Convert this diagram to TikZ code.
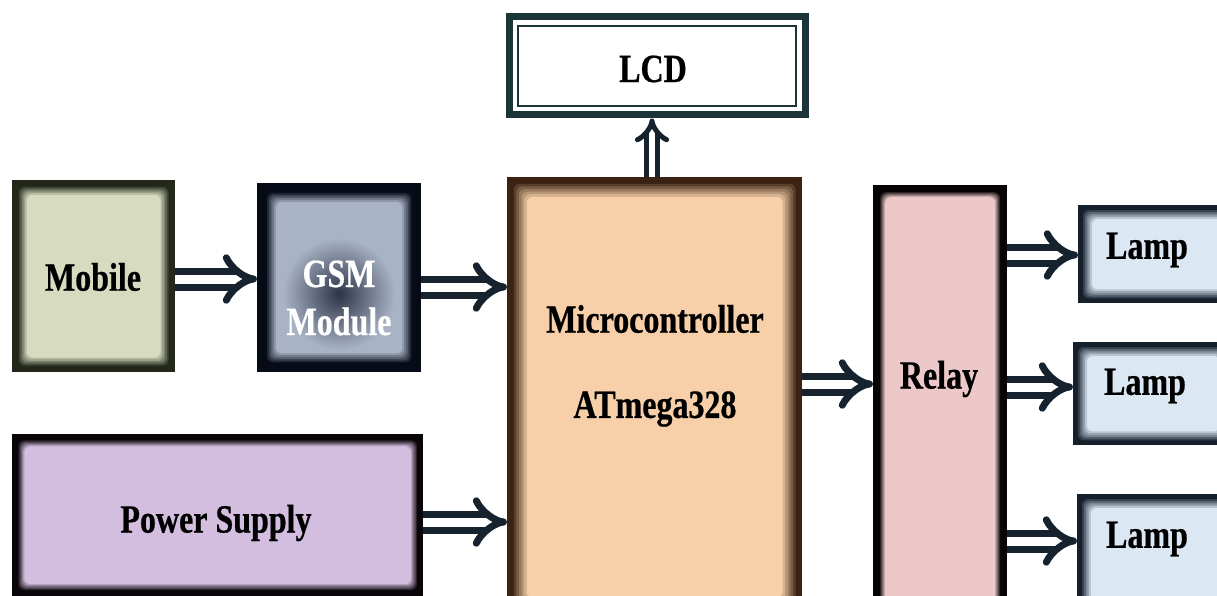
\documentclass[tikz,border=0pt]{standalone}
\usepackage{fontspec}
\newfontfamily\labfont[FakeStretch=0.8,FakeBold=0.6]{Liberation Serif}
\usetikzlibrary{arrows.meta,calc}
\definecolor{arrcol}{HTML}{16232E}
\definecolor{mobD}{HTML}{23281A}\definecolor{mobL}{HTML}{D7DCC1}
\definecolor{gsmD}{HTML}{070B18}\definecolor{gsmL}{HTML}{A9B3C6}\definecolor{gsmC}{HTML}{2C3446}
\definecolor{lcdD}{HTML}{1A3438}
\definecolor{micD}{HTML}{3B2212}\definecolor{micL}{HTML}{F7D0AA}
\definecolor{pwrD}{HTML}{0A0508}\definecolor{pwrL}{HTML}{D4BEE0}
\definecolor{relD}{HTML}{080404}\definecolor{relL}{HTML}{ECC8C8}
\definecolor{lmpD}{HTML}{14202C}\definecolor{lmpL}{HTML}{DCE7F4}
\tikzset{
  glowbox/.style n args={4}{draw=none, fill=#1, inner sep=0pt, anchor=north west,
    path picture={
      \foreach \k in {0,...,6}{
        \pgfmathtruncatemacro\mix{100*\k/6}
        \fill[#2!\mix!#1, rounded corners=6pt]
          ([shift={(#3+\k*#4,#3+\k*#4)}]path picture bounding box.north west) rectangle
          ([shift={(-#3-\k*#4,-#3-\k*#4)}]path picture bounding box.south east);
      }
    }},
  lab/.style={font=\labfont\bfseries\fontsize{40}{44}\selectfont, text=black, inner sep=0pt, align=center},
  arr/.style={draw=arrcol, line width=7pt, double=white, double distance=9pt,
    -{Implies[length=10pt, width=20pt]}},
  arrs/.style={draw=arrcol, line width=5pt, double=white, double distance=6pt,
    -{Implies[length=7pt, width=12pt]}},
}
\begin{document}
\begin{tikzpicture}[x=1pt,y=-1pt]
\useasboundingbox (0,0) rectangle (1217,596);
\clip (0,0) rectangle (1217,596);
\fill[white] (0,0) rectangle (1217,596);
% boxes
\node[glowbox={mobD}{mobL}{5}{1.6}, minimum width=163pt, minimum height=192pt] (mob) at (12,180) {};
\node[glowbox={gsmD}{gsmL}{8}{1.8}, minimum width=164pt, minimum height=189pt] (gsm) at (257,183) {};
\shade[inner color=gsmC, outer color=gsmL] (339,294) ellipse (56 and 56);
\node[draw=lcdD, line width=7pt, fill=white, inner sep=0pt, anchor=north west,
  minimum width=296pt, minimum height=98pt,
  path picture={\draw[lcdD, line width=2.5pt]
    ([shift={(9,9)}]path picture bounding box.north west) rectangle
    ([shift={(-9,-9)}]path picture bounding box.south east);}] (lcd) at (505.5,13.5) {};
\node[glowbox={micD}{micL}{4}{2.6}, minimum width=295pt, minimum height=440pt] (mic) at (507,177) {};
\node[glowbox={pwrD}{pwrL}{5}{1.2}, minimum width=411pt, minimum height=162pt] (pwr) at (12,434) {};
\node[glowbox={relD}{relL}{6}{1.0}, minimum width=134pt, minimum height=430pt] (rel) at (873,185) {};
\node[glowbox={lmpD}{lmpL}{3}{1.8}, minimum width=160pt, minimum height=98pt] (l1) at (1078,205) {};
\node[glowbox={lmpD}{lmpL}{3}{1.8}, minimum width=160pt, minimum height=103pt] (l2) at (1073,342) {};
\node[glowbox={lmpD}{lmpL}{3}{1.8}, minimum width=160pt, minimum height=120pt] (l3) at (1077,494) {};
% labels
\node[lab] (tmob) at (93,277) {Mobile};
\node[lab, text=white] (tgsm) at (339,298) {GSM\\[4pt]Module};
\node[lab] (tlcd) at (653,69) {LCD};
\node[lab] (tmic) at (655,319) {Microcontroller};
\node[lab] (tatm) at (655,409) {ATmega328};
\node[lab] (tpwr) at (216,523) {Power Supply};
\node[lab] (trel) at (939,379) {Relay};
\node[lab] (tl1) at (1147,250) {Lamp};
\node[lab] (tl2) at (1145,386) {Lamp};
\node[lab] (tl3) at (1147,539) {Lamp};
% connectors
\draw[arr] (mob.east |- 0,279) -- (gsm.west |- 0,279);
\draw[arr] (gsm.east |- 0,287) -- (mic.west |- 0,287);
\draw[arr] (pwr.east |- 0,522) -- (mic.west |- 0,522);
\draw[arr] (mic.east |- 0,384) -- (rel.west |- 0,384);
\draw[arr] (rel.east |- 0,255) -- (l1.west |- 0,255);
\draw[arr] (rel.east |- 0,387) -- (l2.west |- 0,387);
\draw[arr] (rel.east |- 0,541) -- (l3.west |- 0,541);
\draw[arrs] (mic.north -| 652,0) -- (lcd.south -| 652,0);
\end{tikzpicture}
\end{document}
